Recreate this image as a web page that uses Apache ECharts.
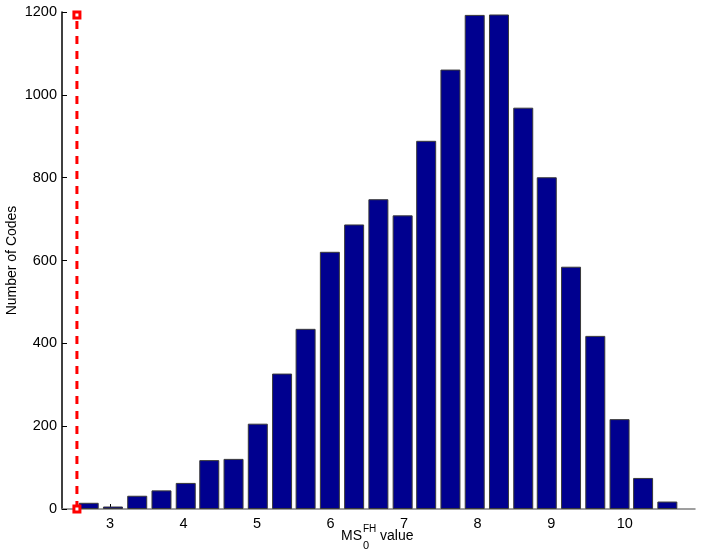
<!DOCTYPE html>
<html>
<head>
<meta charset="utf-8">
<script src="https://cdn.jsdelivr.net/npm/echarts@6/dist/echarts.min.js"></script>
<style>
  html, body { margin: 0; padding: 0; background: #fff; }
  #chart { width: 707px; height: 552px; }
</style>
</head>
<body>
<div id="chart"></div>
<script>
// bin centres of the histogram (MS_0^FH value)
const binCenters = [2.71, 3.04, 3.37, 3.70, 4.03, 4.35, 4.68, 5.01, 5.34, 5.66,
  5.99, 6.32, 6.65, 6.98, 7.30, 7.63, 7.96, 8.29, 8.62, 8.94,
  9.27, 9.60, 9.93, 10.25, 10.58];
// number of codes in each bin
const counts = [15, 6, 32, 45, 63, 118, 121, 206, 327, 435,
  621, 687, 748, 709, 889, 1061, 1193, 1194, 969, 801,
  585, 418, 217, 75, 18];
// red dashed threshold line
const thresholdX = [2.55, 2.55];
const thresholdY = [0, 1193];
// tick labels
const xTicks = [3, 4, 5, 6, 7, 8, 9, 10];

const FONT = '"Liberation Sans", Arial, sans-serif';
const chart = echarts.init(document.getElementById('chart'));

const option = {
  animation: false,
  grid: { left: 62, right: 12, top: 12, bottom: 43, outerBoundsMode: 'none', containLabel: false },
  xAxis: {
    type: 'value',
    min: 2.347,
    max: 10.956,
    axisLine: { show: true, lineStyle: { color: '#808080', width: 1.5 } },
    axisTick: {
      show: true, inside: true, length: 5,
      customValues: xTicks,
      lineStyle: { color: '#000' }
    },
    axisLabel: {
      customValues: xTicks,
      margin: 7,
      color: '#000',
      fontSize: 14.5,
      fontFamily: FONT
    },
    splitLine: { show: false }
  },
  yAxis: {
    type: 'value',
    min: 0,
    max: 1200,
    interval: 200,
    name: 'Number of Codes',
    nameLocation: 'middle',
    nameGap: 43,
    nameMoveOverlap: false,
    nameTextStyle: { color: '#000', fontSize: 14, fontFamily: FONT },
    axisLine: { show: true, lineStyle: { color: '#000', width: 1.5 } },
    axisTick: { show: true, inside: true, length: 5, lineStyle: { color: '#000' } },
    axisLabel: {
      margin: 5,
      color: '#000',
      fontSize: 14.5,
      fontFamily: FONT,
      formatter: v => String(v)
    },
    splitLine: { show: false }
  },
  series: [
    {
      type: 'bar',
      data: binCenters.map((x, i) => [x, counts[i]]),
      barWidth: 20,
      itemStyle: {
        color: '#00008F',
        borderColor: '#3a3a3a',
        borderWidth: 1
      }
    },
    {
      type: 'line',
      data: thresholdX.map((x, i) => [x, thresholdY[i]]),
      clip: false,
      symbol: 'rect',
      symbolSize: 6,
      z: 5,
      lineStyle: { color: '#FF0000', width: 3, type: [8, 7] },
      itemStyle: { color: '#fff', borderColor: '#FF0000', borderWidth: 3 }
    }
  ],
  graphic: [
    {
      type: 'text', left: 341, top: 529,
      style: { text: 'MS', font: '14px ' + FONT, fill: '#000' }
    },
    {
      type: 'text', left: 363, top: 524,
      style: { text: 'FH', font: '10px ' + FONT, fill: '#000' }
    },
    {
      type: 'text', left: 363, top: 540,
      style: { text: '0', font: '11px ' + FONT, fill: '#000' }
    },
    {
      type: 'text', left: 380, top: 529,
      style: { text: 'value', font: '14px ' + FONT, fill: '#000' }
    }
  ]
};

chart.setOption(option);
</script>
</body>
</html>
